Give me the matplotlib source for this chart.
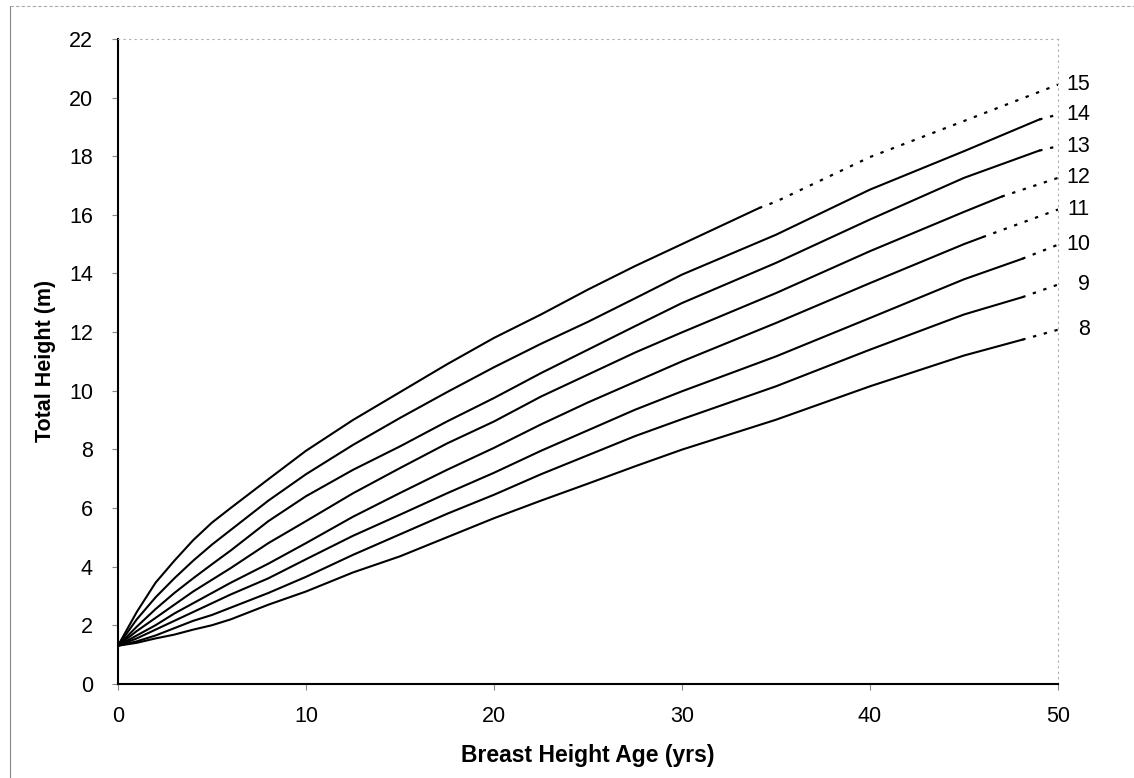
import matplotlib
matplotlib.use('Agg')
import matplotlib.pyplot as plt
from matplotlib.lines import Line2D

plt.rcParams['font.family'] = ['Liberation Sans', 'DejaVu Sans']

# Indices de sitio (etiquetas a la derecha)
indices_sitio = [15, 14, 13, 12, 11, 10, 9, 8]

# Edades comunes (años a altura de pecho)
edades = [0, 1, 2, 3, 4, 5, 6, 8, 10, 12.5, 15, 17.5, 20, 22.5, 25, 27.5, 30, 35, 40, 45]

# Altura total (m) para cada curva en las edades comunes
alturas = {
    15: [1.3, 2.45, 3.45, 4.2, 4.9, 5.5, 6.0, 6.98, 7.95, 9.0, 9.95, 10.9, 11.8, 12.6, 13.45, 14.25, 15.0, 16.45, 17.97, 19.2],
    14: [1.3, 2.2, 2.95, 3.6, 4.2, 4.75, 5.25, 6.25, 7.15, 8.15, 9.07, 9.95, 10.8, 11.6, 12.35, 13.15, 13.96, 15.32, 16.86, 18.17],
    13: [1.3, 1.95, 2.55, 3.1, 3.6, 4.08, 4.55, 5.55, 6.4, 7.3, 8.1, 8.95, 9.75, 10.6, 11.4, 12.2, 12.99, 14.36, 15.84, 17.26],
    12: [1.3, 1.8, 2.25, 2.7, 3.15, 3.55, 3.95, 4.8, 5.55, 6.5, 7.36, 8.2, 8.95, 9.8, 10.55, 11.3, 11.99, 13.33, 14.76, 16.1],
    11: [1.3, 1.65, 2.0, 2.4, 2.75, 3.1, 3.45, 4.1, 4.8, 5.7, 6.51, 7.3, 8.05, 8.85, 9.6, 10.3, 11.0, 12.31, 13.67, 15.0],
    10: [1.3, 1.55, 1.85, 2.15, 2.45, 2.75, 3.05, 3.6, 4.25, 5.05, 5.77, 6.5, 7.2, 7.95, 8.65, 9.35, 9.98, 11.17, 12.48, 13.8],
    9:  [1.3, 1.45, 1.65, 1.9, 2.15, 2.35, 2.6, 3.1, 3.65, 4.4, 5.1, 5.8, 6.45, 7.15, 7.8, 8.45, 9.03, 10.15, 11.4, 12.6],
    8:  [1.3, 1.4, 1.55, 1.68, 1.85, 2.0, 2.2, 2.7, 3.15, 3.8, 4.35, 5.0, 5.65, 6.25, 6.83, 7.42, 7.99, 9.01, 10.15, 11.2],
}

# Fin del tramo con datos (linea continua) y extrapolacion hasta 50 años
edad_corte = {15: 34.1, 14: 49.0, 13: 49.0, 12: 47.0, 11: 46.0, 10: 48.1, 9: 48.1, 8: 48.1}
altura_corte = {15: 16.23, 14: 19.25, 13: 18.19, 12: 16.62, 11: 15.24, 10: 14.5, 9: 13.19, 8: 11.74}
altura_50 = {15: 20.44, 14: 19.42, 13: 18.34, 12: 17.26, 11: 16.18, 10: 14.98, 9: 13.62, 8: 12.08}

fig = plt.figure(figsize=(11.34, 7.78), dpi=100)
ax = fig.add_axes([0.104, 0.121, 0.829, 0.829])

for si in indices_sitio:
    ed = [e for e in edades if e < edad_corte[si]]
    al = alturas[si][:len(ed)]
    # tramo continuo
    ax.plot(ed + [edad_corte[si]], al + [altura_corte[si]], color='black', lw=1.5)
    # tramo punteado (extrapolado)
    ed_p = [edad_corte[si]] + [e for e in edades if e > edad_corte[si]] + [50]
    al_p = [altura_corte[si]] + alturas[si][len(ed):] + [altura_50[si]]
    ax.plot(ed_p, al_p, color='black', lw=1.6, linestyle=(0, (1.5, 3.5)))
    ax.annotate(str(si), xy=(50, altura_50[si]), xytext=(23, 0), textcoords='offset points',
                ha='right', va='center', fontsize=15.5)

ax.set_xlim(0, 50)
ax.set_ylim(0, 22)
ax.set_xticks(range(0, 51, 10))
ax.set_yticks(range(0, 23, 2))
ax.tick_params(axis='both', labelsize=15.5, direction='out', length=4, width=0.8, color='#888888')
ax.tick_params(axis='x', pad=12)
ax.tick_params(axis='y', pad=14)

ax.spines['left'].set_linewidth(1.5)
ax.spines['bottom'].set_linewidth(1.5)
for lado in ['top', 'right']:
    ax.spines[lado].set_linestyle((0, (1, 4)))
    ax.spines[lado].set_color('#aaaaaa')
    ax.spines[lado].set_linewidth(0.8)

ax.set_xlabel('Breast Height Age (yrs)', fontsize=16.5, fontweight='bold', labelpad=12)
ax.set_ylabel('Total Height (m)', fontsize=15.5, fontweight='bold', labelpad=9)

# marco del escaneo
fig.add_artist(Line2D([0.009, 0.009], [0, 0.992], color='#888888', lw=0.8))
fig.add_artist(Line2D([0.009, 1.0], [0.992, 0.992], color='#aaaaaa', lw=0.8, linestyle=(0, (3, 2))))

fig.savefig('out.png', dpi=100)
